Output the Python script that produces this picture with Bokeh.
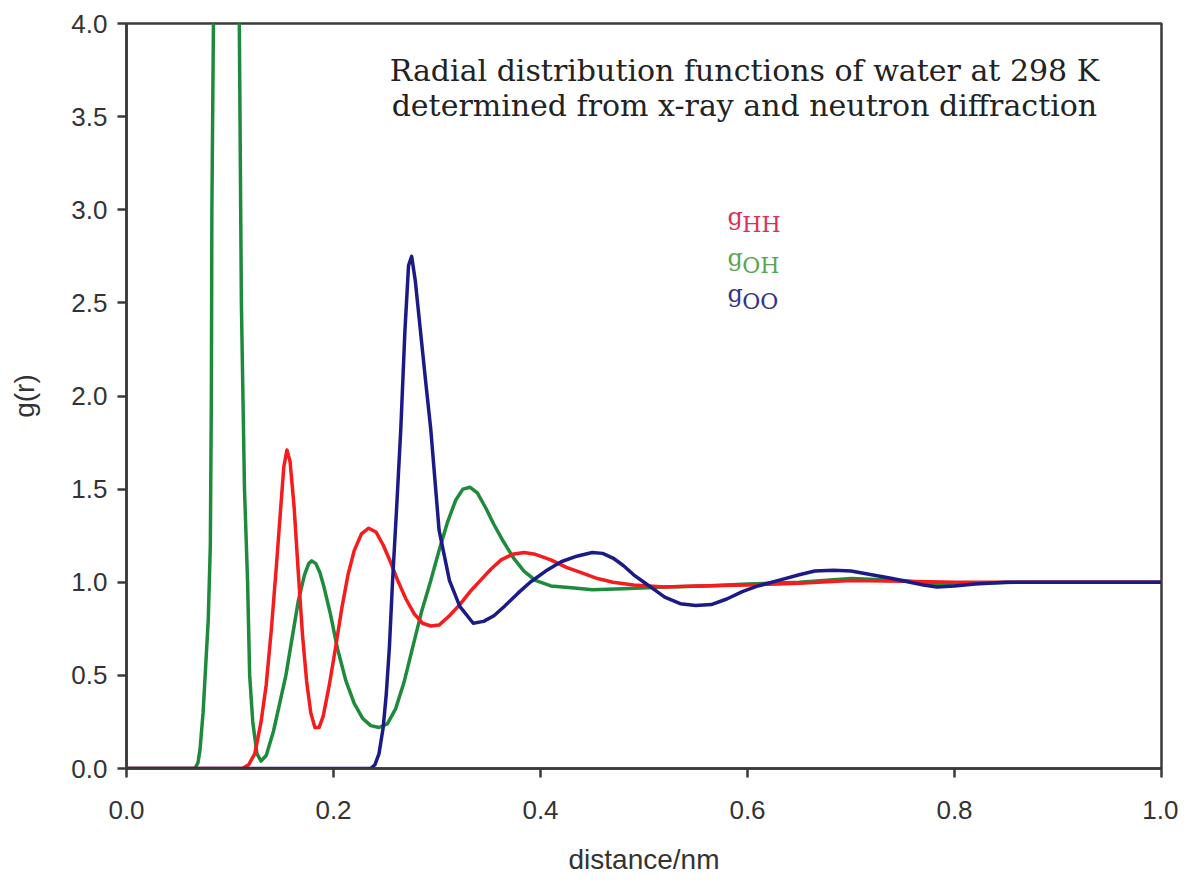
from bokeh.plotting import figure
from bokeh.models import Label, FixedTicker, Range1d
from bokeh.embed import file_html
from bokeh.resources import INLINE

# ---- data ----
goh_r = [0.0, 0.066, 0.069, 0.071, 0.074, 0.076, 0.079, 0.081, 0.082, 0.0825, 0.084, 0.088, 0.097,
         0.106, 0.109, 0.111, 0.114, 0.117, 0.119, 0.122, 0.126, 0.130, 0.135, 0.142, 0.148, 0.154,
         0.160, 0.166, 0.172, 0.176, 0.179, 0.183, 0.187, 0.191, 0.197, 0.204, 0.212, 0.220, 0.228, 0.236, 0.244,
         0.252, 0.260, 0.268, 0.276, 0.285, 0.294, 0.302, 0.310, 0.318, 0.325, 0.332, 0.339, 0.347,
         0.355, 0.364, 0.374, 0.384, 0.395, 0.41, 0.43, 0.45, 0.48, 0.52, 0.56, 0.60, 0.65, 0.70,
         0.75, 0.78, 0.82, 0.86, 1.0]
goh_g = [0.0, 0.0, 0.03, 0.1, 0.3, 0.5, 0.8, 1.2, 2.0, 3.0, 4.0, 5.5, 6.5,
         5.5, 4.0, 2.5, 1.5, 1.0, 0.5, 0.25, 0.08, 0.04, 0.07, 0.2, 0.35, 0.5,
         0.7, 0.9, 1.04, 1.10, 1.115, 1.10, 1.05, 0.97, 0.83, 0.64, 0.47, 0.35, 0.27, 0.23, 0.22,
         0.24, 0.32, 0.46, 0.64, 0.84, 1.01, 1.17, 1.32, 1.44, 1.50, 1.51, 1.48, 1.40,
         1.31, 1.22, 1.13, 1.06, 1.01, 0.98, 0.97, 0.96, 0.965, 0.975, 0.98, 0.99, 1.0, 1.02,
         1.01, 0.99, 0.995, 1.0, 1.0]

ghh_r = [0.0, 0.112, 0.118, 0.124, 0.130, 0.135, 0.140, 0.145, 0.149, 0.152, 0.155, 0.158, 0.162,
         0.166, 0.170, 0.174, 0.178, 0.182, 0.186, 0.190, 0.196, 0.202, 0.208, 0.214, 0.220, 0.227,
         0.234, 0.241, 0.248, 0.255, 0.262, 0.270, 0.278, 0.286, 0.294, 0.302, 0.312, 0.322, 0.332,
         0.342, 0.352, 0.362, 0.373, 0.384, 0.395, 0.41, 0.425, 0.44, 0.455, 0.47, 0.49, 0.52,
         0.55, 0.60, 0.65, 0.70, 0.75, 0.80, 1.0]
ghh_g = [0.0, 0.0, 0.02, 0.08, 0.25, 0.45, 0.75, 1.1, 1.4, 1.62, 1.71, 1.65, 1.40,
         1.05, 0.72, 0.47, 0.30, 0.22, 0.22, 0.28, 0.45, 0.65, 0.86, 1.04, 1.17, 1.26,
         1.29, 1.27, 1.20, 1.11, 1.01, 0.91, 0.83, 0.78, 0.765, 0.77, 0.82, 0.88, 0.95,
         1.01, 1.07, 1.12, 1.15, 1.16, 1.15, 1.12, 1.08, 1.05, 1.02, 1.0, 0.985, 0.975,
         0.98, 0.985, 0.995, 1.01, 1.005, 1.0, 1.0]

goo_r = [0.0, 0.236, 0.240, 0.244, 0.248, 0.251, 0.254, 0.257, 0.261, 0.265, 0.269, 0.2725, 0.2755,
         0.279, 0.284, 0.289, 0.294, 0.302, 0.312, 0.322, 0.335, 0.345, 0.355, 0.365, 0.378, 0.39,
         0.405, 0.42, 0.435, 0.45, 0.46, 0.47, 0.48, 0.49, 0.50, 0.51, 0.52, 0.535, 0.55, 0.565,
         0.58, 0.595, 0.61, 0.63, 0.65, 0.665, 0.683, 0.70, 0.72, 0.74, 0.757, 0.77, 0.783, 0.80,
         0.82, 0.85, 1.0]
goo_g = [0.0, 0.0, 0.02, 0.08, 0.22, 0.4, 0.65, 1.0, 1.4, 1.82, 2.35, 2.7, 2.75,
         2.62, 2.35, 2.08, 1.82, 1.28, 1.01, 0.87, 0.78, 0.79, 0.82, 0.87, 0.94, 1.0,
         1.06, 1.11, 1.14, 1.16, 1.155, 1.13, 1.09, 1.04, 1.0, 0.96, 0.92, 0.885, 0.875, 0.88,
         0.91, 0.95, 0.98, 1.01, 1.04, 1.06, 1.065, 1.06, 1.04, 1.02, 1.0, 0.985, 0.975, 0.98,
         0.99, 1.0, 1.0]

x_ticks = [0.0, 0.2, 0.4, 0.6, 0.8, 1.0]
y_ticks = [0.0, 0.5, 1.0, 1.5, 2.0, 2.5, 3.0, 3.5, 4.0]
title_lines = ["Radial distribution functions of water at 298 K",
               "determined from x-ray and neutron diffraction"]
legend_names = [("g", "HH"), ("g", "OH"), ("g", "OO")]

RED = "#f41c1c"
GREEN = "#1e8a3c"
BLUE = "#1c1a86"
AX = "#3a3a3a"

p = figure(width=1178, height=877, output_backend="svg", toolbar_location=None,
           x_range=Range1d(0, 1.0), y_range=Range1d(0, 4.0),
           min_border_left=126, min_border_right=17, min_border_top=23, min_border_bottom=108)
p.background_fill_color = "white"
p.border_fill_color = "white"
p.grid.visible = False
p.outline_line_color = AX
p.outline_line_width = 2.5

p.line(goh_r, goh_g, color=GREEN, line_width=3.5, line_join="round")
p.line(ghh_r, ghh_g, color=RED, line_width=3.5, line_join="round")
p.line(goo_r, goo_g, color=BLUE, line_width=3.5, line_join="round")

for ax in (p.xaxis[0], p.yaxis[0]):
    ax.axis_line_color = AX
    ax.axis_line_width = 2.5
    ax.major_tick_line_color = AX
    ax.major_tick_line_width = 2.5
    ax.major_tick_out = 9
    ax.major_tick_in = 0
    ax.minor_tick_line_color = None
    ax.major_label_text_font = "Liberation Sans"
    ax.major_label_text_font_size = "26px"
    ax.major_label_text_color = "#333333"
    ax.axis_label_text_font = "Liberation Sans"
    ax.axis_label_text_font_size = "28px"
    ax.axis_label_text_font_style = "normal"
    ax.axis_label_text_color = "#333333"

p.xaxis[0].ticker = FixedTicker(ticks=x_ticks)
p.yaxis[0].ticker = FixedTicker(ticks=y_ticks)
p.xaxis[0].major_label_overrides = {t: f"{t:.1f}" for t in x_ticks}
p.yaxis[0].major_label_overrides = {t: f"{t:.1f}" for t in y_ticks}
p.xaxis[0].major_label_standoff = 23
p.yaxis[0].major_label_standoff = 10
p.xaxis[0].axis_label = "distance/nm"
p.yaxis[0].axis_label = "g(r)"
p.xaxis[0].axis_label_standoff = 22
p.yaxis[0].axis_label_standoff = 28

# title text inside the plot
for i, line in enumerate(title_lines):
    p.add_layout(Label(x=0.597, y=3.748 - i * 0.19, text=line, text_align="center",
                       text_baseline="middle", text_font="DejaVu Serif",
                       text_font_size="30px", text_color="#222222"))

# legend-like labels
leg_colors = ["#dc3058", "#5aa650", "#33338f"]
leg_y = [2.96, 2.74, 2.548]
for (g, sub), c, yy in zip(legend_names, leg_colors, leg_y):
    p.add_layout(Label(x=0.5807, y=yy, text=g, text_align="left", text_baseline="alphabetic",
                       text_font="DejaVu Serif", text_font_size="24px", text_color=c))
    p.add_layout(Label(x=0.595, y=yy - 0.04, text=sub, text_align="left", text_baseline="alphabetic",
                       text_font="DejaVu Serif", text_font_size="22px", text_color=c))

open("out.html", "w").write(file_html(p, INLINE))
